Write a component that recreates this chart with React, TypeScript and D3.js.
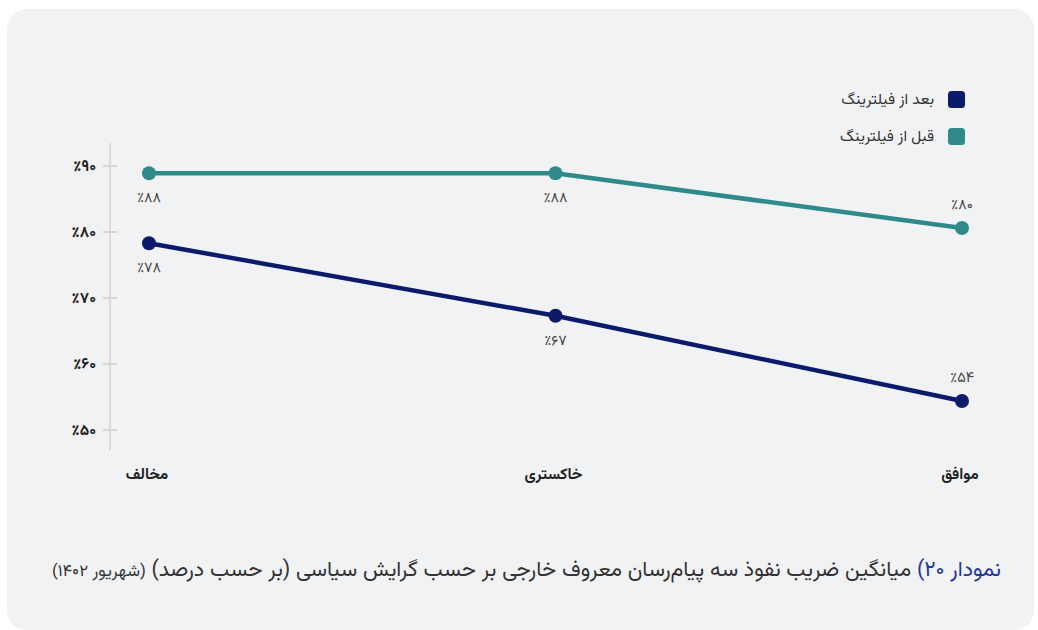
import React from "react";
import * as d3 from "d3";

const categories = ["مخالف", "خاکستری", "موافق"];
const beforeValues = [88.9, 88.9, 80.6];
const afterValues = [78.3, 67.3, 54.4];
const yTicks = [50, 60, 70, 80, 90];
const seriesNames = ["بعد از فیلترینگ", "قبل از فیلترینگ"];
const captionLead = "نمودار ۲۰)";
const captionMain = " میانگین ضریب نفوذ سه پیام‌رسان معروف خارجی بر حسب گرایش سیاسی (بر حسب درصد) ";
const captionTail = "(شهریور ۱۴۰۲)";

const W = 1038;
const H = 630;
const FONT = "Vazirmatn, 'Noto Sans Arabic', 'DejaVu Sans', sans-serif";
const NAVY = "#0c1a6c";
const TEAL = "#2f8a8c";

const fa = (n: number) => String(n).replace(/\d/g, (d) => "۰۱۲۳۴۵۶۷۸۹"[+d]);
const pct = (n: number) => "٪" + fa(n);

export default function App() {
  const x = d3.scalePoint<string>().domain(categories).range([149, 962]);
  const y = d3.scaleLinear().domain([50, 90]).range([430, 166]);
  const line = d3
    .line<number>()
    .x((_, i) => x(categories[i]) as number)
    .y((d) => y(d));

  const series = [
    { name: seriesNames[1], values: beforeValues, color: TEAL },
    { name: seriesNames[0], values: afterValues, color: NAVY },
  ];

  return (
    <div style={{ position: "absolute", left: 0, top: 0, width: W, height: H }}>
      <svg width={W} height={H} style={{ display: "block", fontFamily: FONT }}>
        <rect x={0} y={0} width={W} height={H} fill="#ffffff" />
        <rect x={7} y={9} width={1027} height={621} rx={20} fill="#f1f2f4" />

        {/* y axis */}
        <line x1={110} x2={110} y1={143} y2={450} stroke="#dcdcdf" strokeWidth={2} />
        {yTicks.map((t) => (
          <g key={t}>
            <line x1={103} x2={117} y1={y(t)} y2={y(t)} stroke="#d6d6d9" strokeWidth={2} />
            <text
              x={96}
              y={y(t)}
              dy="0.35em"
              textAnchor="end"
              fontSize={15.5}
              fontWeight={700}
              fill="#222"
              direction="ltr"
            >
              {pct(t)}
            </text>
          </g>
        ))}

        {/* x labels */}
        {categories.map((c) => (
          <text
            key={c}
            x={(x(c) as number) - 2}
            y={474}
            dy="0.35em"
            textAnchor="middle"
            fontSize={15.5}
            fontWeight={700}
            fill="#222"
          >
            {c}
          </text>
        ))}

        {/* lines */}
        {series.map((s) => (
          <g key={s.name}>
            <path d={line(s.values) || ""} fill="none" stroke={s.color} strokeWidth={4.5} />
            {s.values.map((v, i) => (
              <circle key={i} cx={x(categories[i]) as number} cy={y(v)} r={7} fill={s.color} />
            ))}
            {s.values.map((v, i) => {
              const above = i === 2;
              return (
                <text
                  key={"l" + i}
                  x={x(categories[i]) as number}
                  y={y(v) + (above ? -24 : 24)}
                  dy="0.35em"
                  textAnchor="middle"
                  fontSize={14.5}
                  fill="#444"
                  direction="ltr"
                >
                  {pct(Math.floor(v))}
                </text>
              );
            })}
          </g>
        ))}

        {/* legend */}
        {[
          { name: seriesNames[0], color: NAVY, yy: 99 },
          { name: seriesNames[1], color: TEAL, yy: 136 },
        ].map((l) => (
          <g key={l.name}>
            <rect x={948} y={l.yy - 8} width={17} height={17} rx={3.5} fill={l.color} />
            <text
              x={934}
              y={l.yy}
              dy="0.35em"
              textAnchor="start"
              fontSize={15.5}
              fill="#333"
              direction="rtl"
            >
              {l.name}
            </text>
          </g>
        ))}

        {/* caption */}
        <text x={1001} y={568} dy="0.35em" textAnchor="start" direction="rtl" fontSize={21.5} fill="#333">
          <tspan fill="#25359a">{captionLead}</tspan>
          <tspan>{captionMain}</tspan>
          <tspan fontSize={16.8}>{captionTail}</tspan>
        </text>
      </svg>
    </div>
  );
}
